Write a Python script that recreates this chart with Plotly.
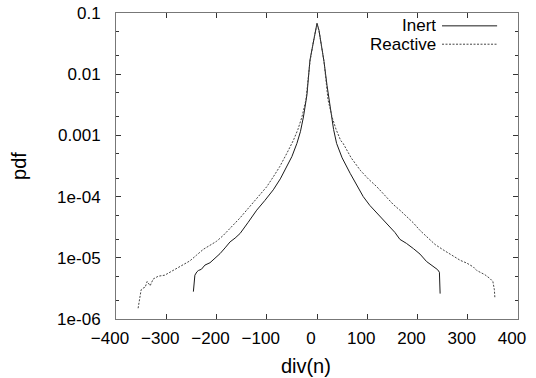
import plotly.graph_objects as go

# ---- data ----
inert_x = [-246, -243, -239, -236, -230, -223, -213, -203, -193, -183, -173, -163, -153, -137, -120, -104,
           -87, -73, -60, -50, -40, -33, -27, -20, -14, -7, -3, 0,
           4, 8, 14, 20, 27, 33, 39, 50, 66, 79, 92, 105, 119, 132, 145, 155, 165,
           178, 192, 205, 218, 230, 240, 243.6, 245]
inert_y = [2.8e-6, 5.2e-6, 5.9e-6, 6.2e-6, 6.5e-6, 7.6e-6, 8.3e-6, 9.8e-6, 1.17e-5, 1.45e-5, 1.82e-5, 2.1e-5, 2.5e-5, 3.8e-5, 6.0e-5, 8.6e-5,
           1.29e-4, 1.95e-4, 3.1e-4, 4.5e-4, 7.4e-4, 1.15e-3, 2.0e-3, 4.6e-3, 1.7e-2, 3.6e-2, 5.6e-2, 6.8e-2,
           5.2e-2, 3.3e-2, 1.6e-2, 6.5e-3, 2.6e-3, 1.25e-3, 7.4e-4, 4.3e-4, 2.4e-4, 1.55e-4, 1.0e-4, 7.2e-5, 5.4e-5, 4.1e-5, 3.2e-5, 2.6e-5, 2.0e-5,
           1.72e-5, 1.41e-5, 1.15e-5, 8.7e-6, 7.4e-6, 6.4e-6, 5.8e-6, 2.6e-6]

reactive_x = [-356, -350, -346, -342, -338, -332, -326, -316, -303, -291, -279, -266, -253, -240, -226, -213, -200, -187,
              -173, -163, -153, -140, -120, -100, -87, -74, -60, -47, -38, -30, -22, -14, -7, -3, 0,
              4, 8, 14, 22, 30, 38, 47, 52, 68, 86, 102, 119, 135, 152, 165, 178, 192, 205, 218, 235, 251,
              268, 285, 298, 311, 318, 324, 334, 344, 350, 353, 354]
reactive_y = [1.5e-6, 3.0e-6, 3.2e-6, 3.3e-6, 4.1e-6, 3.5e-6, 4.5e-6, 5.0e-6, 5.2e-6, 5.9e-6, 6.8e-6, 7.8e-6, 8.9e-6, 1.1e-5, 1.38e-5, 1.6e-5, 1.86e-5, 2.3e-5,
              3.0e-5, 3.7e-5, 4.5e-5, 6.0e-5, 9.4e-5, 1.45e-4, 2.1e-4, 3.1e-4, 5.1e-4, 8.3e-4, 1.25e-3, 2.0e-3, 3.8e-3, 1.6e-2, 3.5e-2, 5.4e-2, 6.6e-2,
              5.1e-2, 3.3e-2, 1.6e-2, 3.8e-3, 2.0e-3, 1.25e-3, 8.3e-4, 7.4e-4, 4.3e-4, 2.7e-4, 1.95e-4, 1.45e-4, 1.05e-4, 7.4e-5, 6.0e-5, 4.8e-5, 3.7e-5, 2.8e-5, 2.2e-5, 1.65e-5, 1.35e-5,
              1.12e-5, 9.1e-6, 8.2e-6, 7.1e-6, 6.2e-6, 5.9e-6, 5.3e-6, 4.6e-6, 4.1e-6, 3.0e-6, 2.2e-6]

x_ticks = [-400, -300, -200, -100, 0, 100, 200, 300, 400]
y_ticks = [1e-6, 1e-5, 1e-4, 1e-3, 1e-2, 1e-1]
y_tick_text = ["1e-06", "1e-05", "1e-04", "0.001", "0.01", "0.1"]
y_minor = [2e-6, 5e-6, 2e-5, 5e-5, 2e-4, 5e-4, 2e-3, 5e-3, 2e-2, 5e-2]

FONT = "Liberation Sans, Arial, Helvetica, sans-serif"
FS = 17

fig = go.Figure()
fig.add_trace(go.Scatter(x=inert_x, y=inert_y, mode="lines", name="Inert",
                         line=dict(color="#1a1a1a", width=1)))
fig.add_trace(go.Scatter(x=reactive_x, y=reactive_y, mode="lines", name="Reactive",
                         line=dict(color="#444444", width=1, dash="2px,1.5px")))

fig.update_layout(
    width=536, height=378,
    margin=dict(l=116, r=18, t=13, b=59),
    paper_bgcolor="white", plot_bgcolor="white",
    showlegend=False,
    font=dict(family=FONT, size=FS, color="black"),
)
fig.update_xaxes(
    range=[-400, 400], tickvals=x_ticks, ticks="inside", ticklen=5, tickcolor="#333",
    showline=True, linecolor="#777", linewidth=1, mirror="ticks", showgrid=False, zeroline=False,
    automargin=False, ticklabelstandoff=4, ticklabelshift=-6, ticklabeloverflow="allow",
    title=dict(text="div(n)&nbsp;&nbsp;&nbsp;&nbsp;", standoff=11), tickfont=dict(size=FS),
)
fig.update_yaxes(
    type="log", range=[-6, -1], tickvals=y_ticks, ticktext=y_tick_text,
    ticks="inside", ticklen=5, tickcolor="#333",
    minor=dict(tickvals=y_minor, ticks="inside", ticklen=3, tickcolor="#333", showgrid=False),
    showline=True, linecolor="#777", linewidth=1, mirror="ticks", showgrid=False, zeroline=False,
    automargin=False, ticklabelstandoff=11, ticklabeloverflow="allow",
    title=dict(text="pdf", standoff=25), tickfont=dict(size=FS),
)

# legend (text to the left of the line sample, as in the reference)
leg = [("Inert", 0.958, dict(color="#1a1a1a", width=1)),
       ("Reactive", 0.898, dict(color="#444444", width=1, dash="2px,1.5px"))]
for name, yy, ln in leg:
    fig.add_annotation(xref="paper", yref="paper", x=0.80, y=yy, text=name, showarrow=False,
                       xanchor="right", yanchor="middle", height=17, valign="middle",
                       font=dict(size=FS, family=FONT))
    fig.add_shape(type="line", xref="paper", yref="paper", x0=0.811, x1=0.948, y0=yy, y1=yy, line=ln)

# remove the default 8px page margin so the figure sits at the window origin
fig.write_html("out.html", config={"displayModeBar": False},
               post_script="document.body.style.margin='0';")
